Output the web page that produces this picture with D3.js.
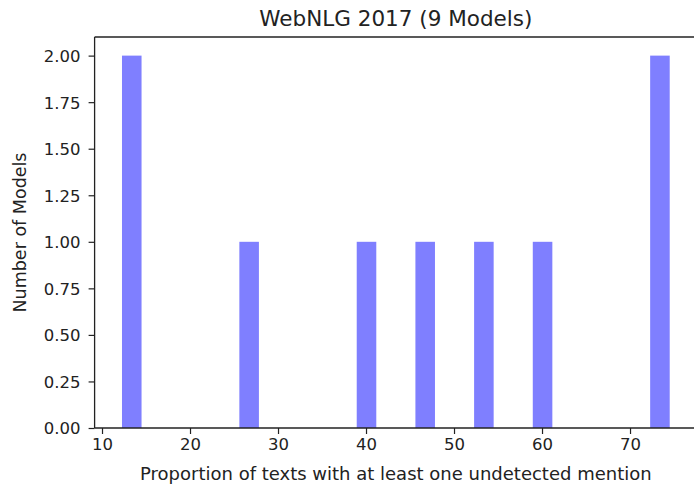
<!DOCTYPE html>
<html>
<head>
<meta charset="utf-8">
<script src="https://cdn.jsdelivr.net/npm/d3@7"></script>
<style>
  html, body { margin: 0; padding: 0; background: #fff; }
  svg { display: block; }
  text { font-family: "DejaVu Sans", sans-serif; fill: #222; }
</style>
</head>
<body>
<svg id="chart" width="694" height="486"></svg>
<script>
// Proportion (%) of texts with at least one undetected mention, one value per model
const modelValues = [12.27, 13.5, 26.7, 40.1, 46.8, 53.4, 60.1, 73.6, 74.51];
const binCount = 28;
const xTicks = [10, 20, 30, 40, 50, 60, 70];
const yTicks = [0, 0.25, 0.5, 0.75, 1.0, 1.25, 1.5, 1.75, 2.0];
const titleText = "WebNLG 2017 (9 Models)";
const xLabelText = "Proportion of texts with at least one undetected mention";
const yLabelText = "Number of Models";

const svg = d3.select("#chart");
const mLeft = 94.6, mRight = 697.1, mTop = 37, mBottom = 428;

const lo = d3.min(modelValues), hi = d3.max(modelValues);
const step = (hi - lo) / binCount;
const thresholds = d3.range(1, binCount).map(i => lo + i * step);
const bins = d3.bin().domain([lo, hi]).thresholds(thresholds)(modelValues);

const pad = (hi - lo) * 0.05;
const x = d3.scaleLinear().domain([lo - pad, hi + pad]).range([mLeft, mRight]);
const yMax = d3.max(bins, b => b.length) * 1.05;
const y = d3.scaleLinear().domain([0, yMax]).range([mBottom, mTop]);

// bars
svg.append("g").selectAll("rect")
  .data(bins.filter(b => b.length > 0))
  .join("rect")
  .attr("x", d => x(d.x0))
  .attr("width", d => x(d.x1) - x(d.x0))
  .attr("y", d => y(d.length))
  .attr("height", d => y(0) - y(d.length))
  .attr("fill", "rgba(0,0,255,0.5)");

// axes
const xAxis = svg.append("g")
  .attr("transform", `translate(0,${mBottom})`)
  .call(d3.axisBottom(x).tickValues(xTicks).tickFormat(d3.format("d")).tickSize(6).tickPadding(4));
const yAxis = svg.append("g")
  .attr("transform", `translate(${mLeft},0)`)
  .call(d3.axisLeft(y).tickValues(yTicks).tickFormat(d3.format(".2f")).tickSize(6).tickPadding(8));

[xAxis, yAxis].forEach(g => {
  g.select(".domain").remove();
  g.selectAll(".tick line").attr("stroke", "#222").attr("stroke-width", 1.2);
  g.selectAll(".tick text").attr("fill", "#222").style("font-size", "16.5px").style("font-family", "DejaVu Sans, sans-serif");
});
yAxis.selectAll(".tick text").attr("dy", "0.36em");

// spines
const spine = (x1, y1, x2, y2) => svg.append("line")
  .attr("x1", x1).attr("y1", y1).attr("x2", x2).attr("y2", y2)
  .attr("stroke", "#222").attr("stroke-width", 1.3);
spine(mLeft, mTop, mLeft, mBottom);
spine(mLeft, mBottom, mRight, mBottom);
spine(mLeft, mTop, mRight, mTop);
spine(mRight, mTop, mRight, mBottom);

// title & labels
svg.append("text")
  .attr("x", (mLeft + mRight) / 2).attr("y", 26)
  .attr("text-anchor", "middle")
  .style("font-size", "21.5px")
  .text(titleText);

svg.append("text")
  .attr("x", (mLeft + mRight) / 2).attr("y", 480)
  .attr("text-anchor", "middle")
  .style("font-size", "18px")
  .text(xLabelText);

svg.append("text")
  .attr("transform", `translate(26,${(mTop + mBottom) / 2}) rotate(-90)`)
  .attr("text-anchor", "middle")
  .style("font-size", "17.5px")
  .text(yLabelText);
</script>
</body>
</html>
